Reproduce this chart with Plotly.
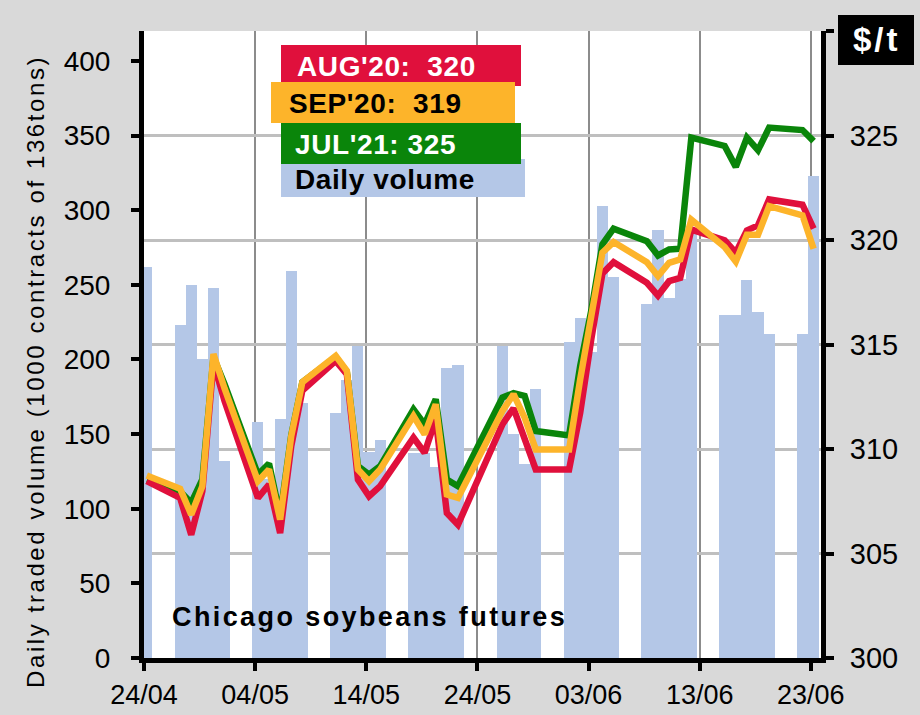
import pandas as pd
import plotly.graph_objects as go

# ---------------- data ----------------
dates = ["2020-04-24", "2020-04-27", "2020-04-28", "2020-04-29", "2020-04-30", "2020-05-01",
         "2020-05-04", "2020-05-05", "2020-05-06", "2020-05-07", "2020-05-08",
         "2020-05-11", "2020-05-12", "2020-05-13", "2020-05-14", "2020-05-15",
         "2020-05-18", "2020-05-19", "2020-05-20", "2020-05-21", "2020-05-22",
         "2020-05-26", "2020-05-27", "2020-05-28", "2020-05-29",
         "2020-06-01", "2020-06-02", "2020-06-03", "2020-06-04", "2020-06-05",
         "2020-06-08", "2020-06-09", "2020-06-10", "2020-06-11", "2020-06-12",
         "2020-06-15", "2020-06-16", "2020-06-17", "2020-06-18", "2020-06-19",
         "2020-06-22", "2020-06-23"]

daily_volume = [262, 223, 250, 200, 248, 132,
                158, 120, 160, 259, 171,
                164, 186, 209, 138, 146,
                137, 137, 128, 194, 196,
                209, 150, 130, 180,
                212, 228, 205, 303, 255,
                237, 287, 241, 254, 285,
                230, 230, 253, 232, 217,
                217, 323]

aug20 = [308.46, 307.66, 305.90, 307.98, 314.14, 312.30,
         307.66, 308.30, 305.98, 310.14, 312.80,
         314.22, 313.58, 308.54, 307.74, 308.22,
         310.54, 309.82, 311.42, 306.94, 306.38,
         311.18, 311.95, 310.50, 309.02,
         309.02, 311.74, 315.26, 318.40, 318.94,
         317.95, 317.34, 318.03, 318.19, 320.50,
         319.98, 319.39, 320.46, 320.70, 321.94,
         321.69, 320.54]

sep20 = [308.73, 308.10, 306.86, 308.22, 314.54, 312.90,
         308.46, 309.02, 306.62, 310.62, 313.20,
         314.46, 313.74, 309.02, 308.46, 309.02,
         311.58, 310.70, 312.14, 307.82, 307.66,
         311.82, 312.62, 311.50, 309.98,
         309.98, 313.34, 316.54, 319.40, 319.90,
         318.94, 318.27, 318.91, 319.07, 320.97,
         319.66, 318.97, 320.25, 320.25, 321.62,
         321.18, 319.58]

jul21 = [308.50, 307.98, 307.42, 308.54, 314.40, 313.10,
         308.78, 309.30, 306.80, 310.65, 313.20,
         314.40, 313.70, 309.18, 308.78, 309.18,
         311.90, 311.18, 312.38, 308.54, 308.22,
         312.46, 312.67, 312.54, 310.86,
         310.65, 313.98, 316.63, 319.80, 320.54,
         319.94, 319.26, 319.55, 319.58, 324.90,
         324.50, 323.50, 324.90, 324.30, 325.38,
         325.26, 324.73]

legend_labels = ["AUG'20:\u00a0\u00a0320", "SEP'20:\u00a0\u00a0319", "JUL'21:\u00a0325", "Daily volume"]
vol_ticks = [0, 50, 100, 150, 200, 250, 300, 350, 400]
price_ticks = [300, 305, 310, 315, 320, 325, 330]
price_ticktext = ["300", "305", "310", "315", "320", "325", ""]

# ---------------- styles ----------------
C_AUG = "#E0103C"
C_SEP = "#FDB42A"
C_JUL = "#0A850A"
C_VOL = "#B4C7E7"
FONT = "Liberation Sans, Arial, sans-serif"

def spaced(t, ls):
    return '<span style="letter-spacing:%.1fpx">%s</span>' % (ls, t)

x = pd.to_datetime(dates) + pd.Timedelta(hours=6)

fig = go.Figure()
fig.add_trace(go.Bar(x=x, y=daily_volume, width=86400000, marker=dict(color=C_VOL, line=dict(width=0)),
                     yaxis="y", showlegend=False, hoverinfo="skip"))
fig.add_trace(go.Scatter(x=x, y=jul21, mode="lines", line=dict(color=C_JUL, width=6.5), yaxis="y2",
                         showlegend=False, hoverinfo="skip"))
fig.add_trace(go.Scatter(x=x, y=aug20, mode="lines", line=dict(color=C_AUG, width=6.5), yaxis="y2",
                         showlegend=False, hoverinfo="skip"))
fig.add_trace(go.Scatter(x=x, y=sep20, mode="lines", line=dict(color=C_SEP, width=6.5), yaxis="y2",
                         showlegend=False, hoverinfo="skip"))

# plot area in px: x 144..821, y 31..658
X0, X1, Y0, Y1 = 144.0, 821.0, 31.0, 658.0
def px(xp):
    return (xp - X0) / (X1 - X0)
def py(yp):
    return (Y1 - yp) / (Y1 - Y0)

shapes = []
annotations = []
boxes = [
    (281, 525, 159, 197, C_VOL, legend_labels[3], "black", 293, 179),
    (281, 521, 45, 86, C_AUG, legend_labels[0], "white", 295, 66),
    (271, 515, 82, 123, C_SEP, legend_labels[1], "black", 287, 104),
    (281, 521, 123, 164, C_JUL, legend_labels[2], "white", 293, 144),
]
for (x0, x1, y0, y1, col, txt, tcol, tx, ty) in boxes:
    shapes.append(dict(type="rect", xref="paper", yref="paper", x0=px(x0), x1=px(x1), y0=py(y1), y1=py(y0),
                       fillcolor=col, line=dict(width=0), layer="above"))
for (x0, x1, y0, y1, col, txt, tcol, tx, ty) in boxes:
    annotations.append(dict(xref="paper", yref="paper", x=px(tx), y=py(ty), xanchor="left", yanchor="middle",
                            text="<b>%s</b>" % spaced(txt, 0.6), showarrow=False,
                            font=dict(family=FONT, size=28, color=tcol)))

shapes.append(dict(type="rect", xref="paper", yref="paper", x0=px(838), x1=px(914), y0=py(65), y1=py(15),
                   fillcolor="black", line=dict(width=0), layer="above"))
annotations.append(dict(xref="paper", yref="paper", x=px(877), y=py(40), xanchor="center", yanchor="middle",
                        text="<b>%s</b>" % spaced("$/t", 3), showarrow=False,
                        font=dict(family=FONT, size=33, color="white")))

annotations.append(dict(xref="paper", yref="paper", x=px(170), y=py(617), xanchor="left", yanchor="middle",
                        text="<b>%s</b>" % spaced("Chicago soybeans futures", 2.4), showarrow=False,
                        font=dict(family=FONT, size=27, color="black")))

annotations.append(dict(xref="paper", yref="paper", x=px(35), y=py(372), xanchor="center", yanchor="middle",
                        text=spaced("Daily traded volume (1000 contracts of 136tons)", 2.6), textangle=-90,
                        showarrow=False, font=dict(family=FONT, size=24, color="black")))

fig.update_layout(
    width=920, height=715, autosize=False,
    margin=dict(l=144, r=99, t=31, b=57, pad=0),
    paper_bgcolor="#D9D9D9", plot_bgcolor="white",
    bargap=0, showlegend=False, hovermode=False,
    font=dict(family=FONT, color="black"),
    xaxis=dict(type="date", range=["2020-04-24", "2020-06-23 22:00"], automargin=False,
               tick0="2020-04-24", dtick=864000000, tickformat="%d/%m",
               showgrid=True, gridcolor="#8C8C8C", gridwidth=2,
               showline=True, linecolor="black", linewidth=5,
               ticks="outside", ticklen=8, tickwidth=4, tickcolor="black", ticklabelstandoff=1,
               tickfont=dict(family=FONT, size=27, color="black"), zeroline=False),
    yaxis=dict(range=[0, 420], tickvals=vol_ticks, showgrid=False, automargin=False,
               showline=True, linecolor="black", linewidth=5,
               ticks="outside", ticklen=8, tickwidth=4, tickcolor="black", ticklabelstandoff=15,
               tickfont=dict(family=FONT, size=28, color="black"), zeroline=False),
    yaxis2=dict(range=[300, 330], tickvals=price_ticks, ticktext=price_ticktext, overlaying="y", side="right",
                showgrid=True, gridcolor="#BFBFBF", gridwidth=3, automargin=False,
                showline=True, linecolor="black", linewidth=5,
                ticks="outside", ticklen=8, tickwidth=4, tickcolor="black", ticklabelstandoff=10,
                tickfont=dict(family=FONT, size=29, color="black"), zeroline=False),
    shapes=shapes, annotations=annotations,
)

fig.write_html("out.html", config={"displayModeBar": False},
               post_script="document.body.style.margin='0';document.body.style.overflow='hidden';")
